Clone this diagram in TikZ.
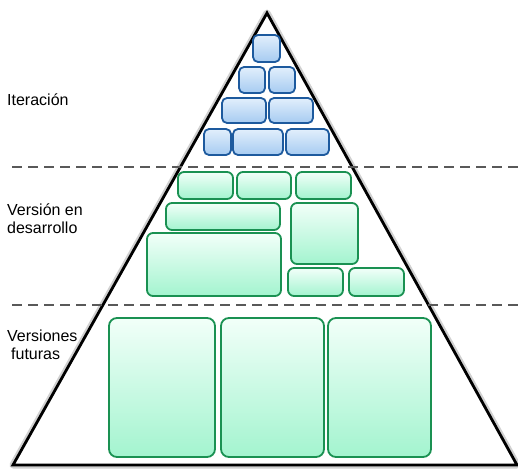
\documentclass[tikz,border=0pt]{standalone}
\usepackage{fontspec}
\setmainfont{Liberation Sans}
\usepackage{tikz}
\definecolor{bluedraw}{HTML}{1D5A9E}
\definecolor{bluetop}{HTML}{E2EFFC}
\definecolor{bluebot}{HTML}{A6CBF1}
\definecolor{greendraw}{HTML}{1A9152}
\definecolor{greentop}{HTML}{F2FFF9}
\definecolor{greenbot}{HTML}{A3F4CF}
\tikzset{
  bluebox/.style={draw=bluedraw, line width=1.8pt, rounded corners=5pt,
    top color=bluetop, bottom color=bluebot},
  greenbox/.style={draw=greendraw, line width=1.8pt, rounded corners=6pt,
    top color=greentop, bottom color=greenbot},
  levelline/.style={draw=black!65, line width=1.4pt, dash pattern=on 10pt off 6pt},
  levellabel/.style={font=\fontsize{16}{18}\selectfont, align=left, anchor=north west, inner sep=0pt}
}

\begin{document}
\begin{tikzpicture}[x=1pt, y=-1pt]
      \useasboundingbox (0,0) rectangle (518,468);

      \coordinate (apex) at (267,13);
      \coordinate (left) at (13,465);
      \coordinate (right) at (517,465);

      % pyramid with its soft shadow
      \draw[black!18, line width=7pt, line join=round] (left) -- (apex) -- (right) -- cycle;
      \fill[white] (left) -- (apex) -- (right) -- cycle;
      \draw[black, line width=2.8pt, line join=miter] (left) -- (apex) -- (right) -- cycle;

      % levels
      \coordinate (d1l) at (12,167);
      \coordinate (d1r) at (518,167);
      \coordinate (d2l) at (12,305);
      \coordinate (d2r) at (518,305);
      \draw[levelline] (d1l) -- (d1r);
      \draw[levelline] (d2l) -- (d2r);

      % iteration
      \foreach \xa/\ya/\xb/\yb in {253/35/280/62, 239/67/265/93, 269/67/295/93,
        222/98/266/123, 269/98/313/123,
        204/129/231/155, 233/129/283/155, 286/129/329/155}
        \draw[bluebox] (\xa,\ya) rectangle (\xb,\yb);

      % version in progress
      \foreach \xa/\ya/\xb/\yb in {178/172/233/199, 237/172/291/199, 296/172/351/199,
        166/203/280/230, 291/203/358/264, 147/233/281/296,
        288/268/343/296, 349/268/404/296}
        \draw[greenbox] (\xa,\ya) rectangle (\xb,\yb);

      % future versions
      \foreach \xa/\xb in {109/215, 221/324, 328/431}
        \draw[greenbox, rounded corners=8pt] (\xa,318) rectangle (\xb,457);

      % labels
      \node[levellabel] (iter) at (7,94) {Iteración};
      \node[levellabel] (devel) at (7,204) {Versión en\\desarrollo};
      \node[levellabel] (future) at (7,330) {Versiones\\\hspace*{4pt}futuras};
    \end{tikzpicture}
\end{document}
